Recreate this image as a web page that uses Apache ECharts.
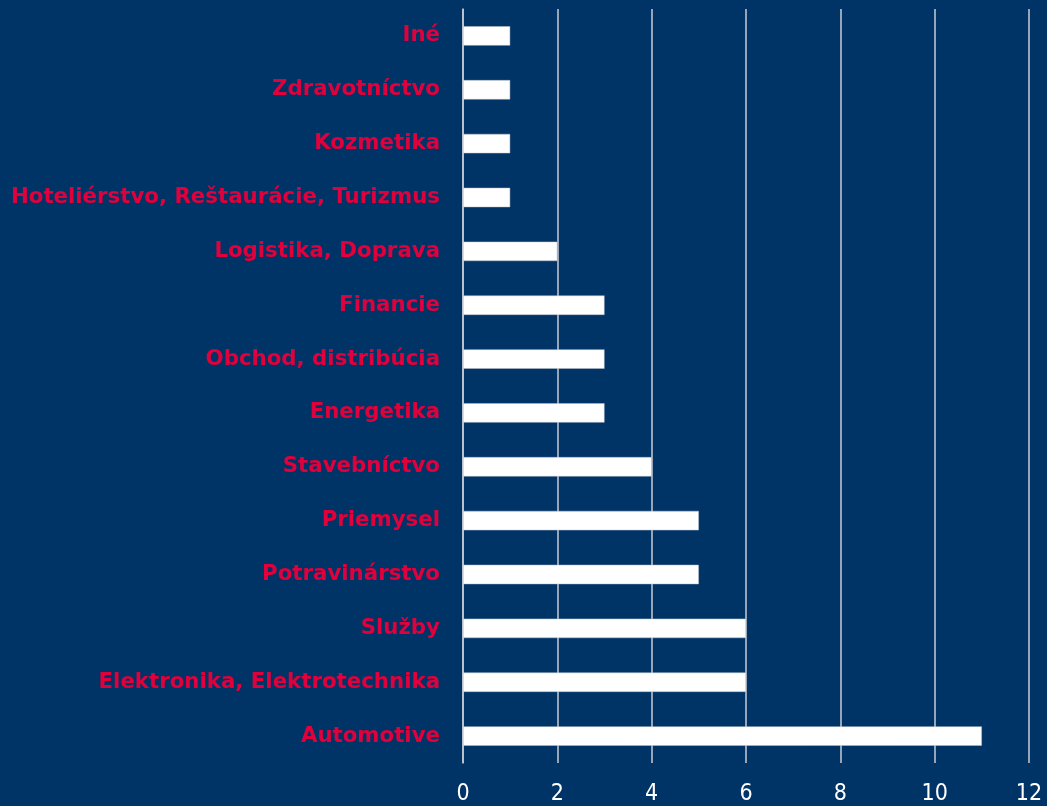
<!DOCTYPE html>
<html><head><meta charset="utf-8">
<script src="https://cdn.jsdelivr.net/npm/echarts@6/dist/echarts.min.js"></script>
<style>html,body{margin:0;padding:0;background:#003366;}#c{width:1047px;height:806px;}</style>
</head><body><div id="c"></div>
<script>
const categories = ["Automotive","Elektronika, Elektrotechnika","Služby","Potravinárstvo","Priemysel","Stavebníctvo","Energetika","Obchod, distribúcia","Financie","Logistika, Doprava","Hoteliérstvo, Reštaurácie, Turizmus","Kozmetika","Zdravotníctvo","Iné"];
const values = [11,6,6,5,5,4,3,3,3,2,1,1,1,1];
const xTicks = [0,2,4,6,8,10,12];

const chart = echarts.init(document.getElementById('c'), null, {renderer:'canvas'});
chart.setOption({
  backgroundColor:'#003366',
  animation:false,
  grid:{left:463,right:18,top:9,bottom:42,containLabel:false},
  xAxis:{type:'value',min:xTicks[0],max:xTicks[xTicks.length-1],interval:2,
    axisLine:{show:false},axisTick:{show:false},
    splitLine:{show:true,lineStyle:{color:'#c8ccd4',width:1.5}},
    axisLabel:{color:'#ffffff',fontFamily:'DejaVu Sans Condensed, DejaVu Sans',fontSize:23,margin:20}},
  yAxis:{type:'category',data:categories,
    axisLine:{show:true,lineStyle:{color:'#c8ccd4',width:1.5}},axisTick:{show:false},
    axisLabel:{color:'#e0003c',fontFamily:'DejaVu Sans',fontWeight:'bold',fontSize:21.3,margin:23,padding:[4,0,0,0]}},
  series:[{type:'bar',data:values,barWidth:'36%',
    itemStyle:{color:'#ffffff',borderColor:'#b8c0cc',borderWidth:0.5}}]
});
</script></body></html>
